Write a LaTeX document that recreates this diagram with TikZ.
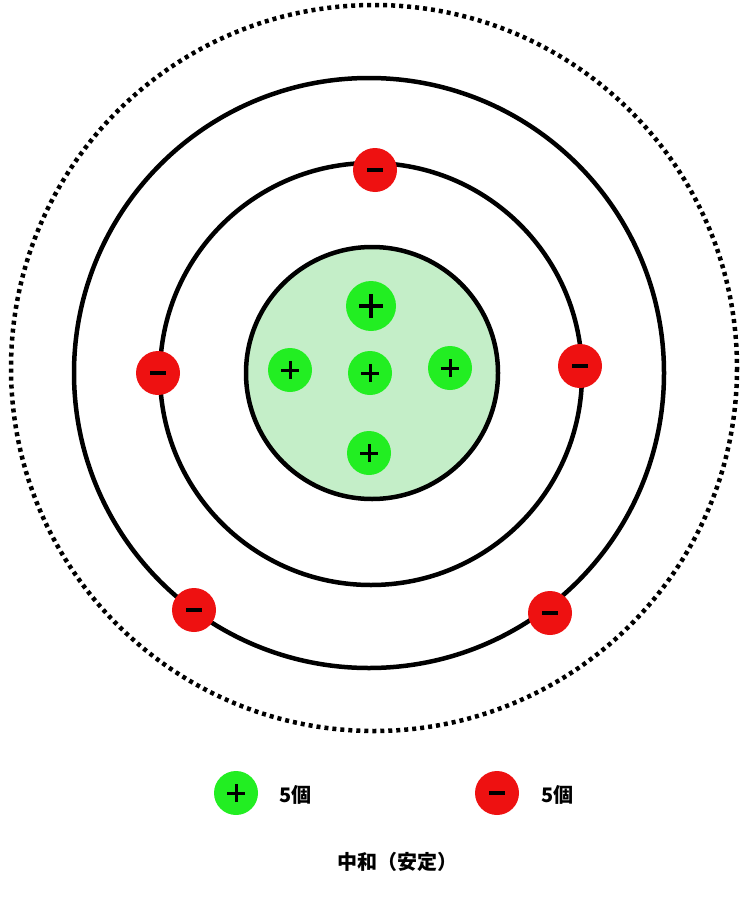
\documentclass[tikz,border=0pt]{standalone}
\usepackage{fontspec}
\setmainfont{Liberation Sans}
\newfontfamily\cjk{Noto Sans CJK JP}
\definecolor{pg}{HTML}{22EE22}
\definecolor{pr}{HTML}{EE1111}
\definecolor{nuc}{HTML}{C4EEC8}
\newcommand{\plussign}[1]{\tikz[baseline=0pt]{\draw[line width=3.5pt] (-#1,0)--(#1,0) (0,-#1)--(0,#1);}}
\newcommand{\minussign}{\tikz{\draw[line width=3.5pt] (-8pt,0)--(8pt,0);}}
\begin{document}
\begin{tikzpicture}[x=1pt,y=-1pt,
  orb/.style={draw=black,line width=4.5pt},
  pro/.style={circle,fill=pg,minimum size=44pt,inner sep=0pt},
  ele/.style={circle,fill=pr,minimum size=44pt,inner sep=0pt},
  lbl/.style={font=\cjk\fontsize{20}{20}\selectfont\bfseries}]
\useasboundingbox (0,0) rectangle (751,899);
\draw[line width=4.5pt,dash pattern=on 4pt off 4pt] (374,368) circle (363);
\draw[orb] (369,373) circle (295);
\draw[orb] (371,374) circle (211);
\draw[orb,fill=nuc] (372,373) circle (126);
\node[ele] (e1) at (375,170) {\minussign};
\node[ele] (e2) at (158,373) {\minussign};
\node[ele] (e3) at (580,366) {\minussign};
\node[ele] (e4) at (194,610) {\minussign};
\node[ele] (e5) at (550,613) {\minussign};
\node[pro,minimum size=50pt] (p1) at (371,306) {\tikz{\draw[line width=3.5pt] (-12pt,0)--(12pt,0) (0,-12pt)--(0,12pt);}};
\node[pro] (p2) at (290,370) {\tikz{\draw[line width=3pt] (-9pt,0)--(9pt,0) (0,-9pt)--(0,9pt);}};
\node[pro] (p3) at (370,373) {\tikz{\draw[line width=3pt] (-9pt,0)--(9pt,0) (0,-9pt)--(0,9pt);}};
\node[pro] (p4) at (450,368) {\tikz{\draw[line width=3pt] (-9pt,0)--(9pt,0) (0,-9pt)--(0,9pt);}};
\node[pro] (p5) at (369,453) {\tikz{\draw[line width=3pt] (-9pt,0)--(9pt,0) (0,-9pt)--(0,9pt);}};
\node[pro] (lp) at (236,793) {\tikz{\draw[line width=3pt] (-9pt,0)--(9pt,0) (0,-9pt)--(0,9pt);}};
\node[lbl,anchor=west] (lt1) at (276,795) {5個};
\node[ele] (le) at (497,793) {\minussign};
\node[lbl,anchor=west] (lt2) at (538,795) {5個};
\node[lbl] (t) at (397,862) {中和（安定）};
\end{tikzpicture}
\end{document}
